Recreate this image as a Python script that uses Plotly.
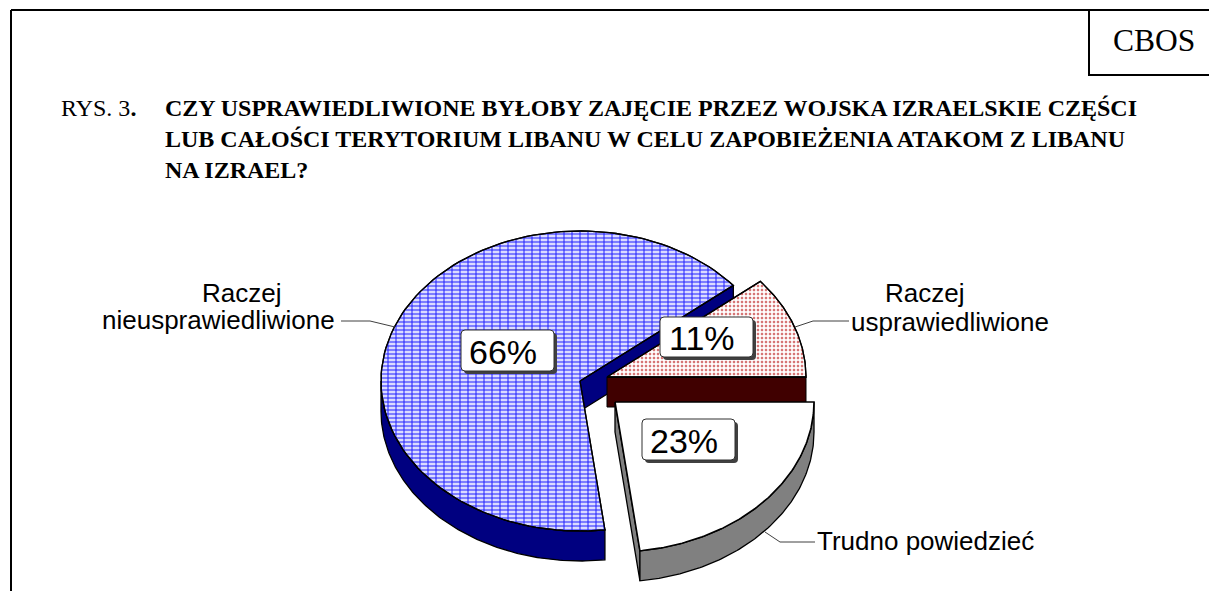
import numpy as np
import plotly.graph_objects as go

categories = ["Raczej nieusprawiedliwione", "Trudno powiedzieć", "Raczej usprawiedliwione"]
values = [66, 23, 11]
value_labels = ["66%", "23%", "11%"]
title_lines = [
    "CZY USPRAWIEDLIWIONE BYŁOBY ZAJĘCIE PRZEZ WOJSKA IZRAELSKIE CZĘŚCI",
    "LUB CAŁOŚCI TERYTORIUM LIBANU W CELU ZAPOBIEŻENIA ATAKOM Z LIBANU",
    "NA IZRAEL?",
]

W, H = 1209, 591
RX, RY, DEPTH = 199, 150, 30
START_DEG = 39.6
centers = [(580, 381), (615, 402), (607, 377)]

# slice angles from the values
spans = [v / sum(values) * 360 for v in values]
angles = []
a = START_DEG
for s in spans:
    angles.append((a, a + s))
    a += s


def arc(c, t0, t1, dy=0, n=120):
    t = np.radians(np.linspace(t0, t1, n))
    return c[0] + RX * np.cos(t), c[1] - RY * np.sin(t) + dy


def poly(x, y, fill, line="black", lw=1.3, pattern=None):
    fig.add_trace(go.Scatter(
        x=list(x) + [x[0]], y=list(y) + [y[0]], mode="lines", fill="toself",
        fillcolor=fill, fillpattern=pattern,
        line=dict(color=line, width=lw), hoverinfo="skip", showlegend=False))


def wedge(c, t0, t1):
    ax, ay = arc(c, t0, t1)
    return [c[0], *ax], [c[1], *ay]


def wall(c, t0, t1):
    ax, ay = arc(c, t0, t1)
    bx, by = arc(c, t0, t1, DEPTH)
    return [*ax, *bx[::-1]], [*ay, *by[::-1]]


def straight_wall(c, t):
    ex = c[0] + RX * np.cos(np.radians(t))
    ey = c[1] - RY * np.sin(np.radians(t))
    return [c[0], ex, ex, c[0]], [c[1], ey, ey + DEPTH, c[1] + DEPTH]


fig = go.Figure()

# Blue slice (66%)
c, (t0, t1) = centers[0], angles[0]
poly(*straight_wall(c, t0), "#000080")
poly(*wall(c, 180, t1), "#000080")
wx, wy = wedge(c, t0, t1)
poly(wx, wy, "#ffffff", pattern=dict(shape="-", fgcolor="#1f1fff", bgcolor="#dcdcff", size=4, solidity=0.5))
poly(wx, wy, "rgba(0,0,0,0)", pattern=dict(shape="|", fgcolor="#1f1fff", bgcolor="rgba(0,0,0,0)", size=8, solidity=0.25))

# Red slice (11%)
c, (t0, t1) = centers[2], angles[2]
t0m = t0 - 360 if t0 > 180 else t0
poly(*straight_wall(c, t0m), "#400000", lw=1)
wx, wy = wedge(c, t0m, t1 - 360 if t1 > 360 else t1)
poly(wx, wy, "#ffffff", pattern=dict(shape="+", fgcolor="#f0b8b8", bgcolor="#ffffff", size=4, solidity=0.3))
poly(wx, wy, "rgba(0,0,0,0)", pattern=dict(shape=".", fgcolor="#b00000", bgcolor="rgba(0,0,0,0)", size=4, solidity=0.3))

# White slice (23%)
c, (t0, t1) = centers[1], angles[1]
poly(*straight_wall(c, t0), "#808080")
poly(*wall(c, t0, t1), "#808080")
poly(*wedge(c, t0, t1), "#ffffff", lw=1.6)

# Leader lines
leaders = [
    ([341, 370, 395], [321, 321, 327]),
    ([795, 813, 849], [327, 321, 321]),
    ([765, 780, 815], [532, 542, 542]),
]
for lx, ly in leaders:
    fig.add_trace(go.Scatter(x=lx, y=ly, mode="lines", line=dict(color="#404040", width=1),
                             hoverinfo="skip", showlegend=False))


def round_rect(x0, y0, x1, y1, r=4):
    return (f"M{x0+r},{y0} L{x1-r},{y0} Q{x1},{y0} {x1},{y0+r} L{x1},{y1-r} Q{x1},{y1} {x1-r},{y1} "
            f"L{x0+r},{y1} Q{x0},{y1} {x0},{y1-r} L{x0},{y0+r} Q{x0},{y0} {x0+r},{y0} Z")


shapes = [
    dict(type="line", x0=11, y0=10, x1=W, y1=10, line=dict(color="black", width=2)),
    dict(type="line", x0=11, y0=10, x1=11, y1=H, line=dict(color="black", width=2)),
    dict(type="line", x0=1089, y0=10, x1=1089, y1=75, line=dict(color="black", width=2)),
    dict(type="line", x0=1088, y0=75, x1=W, y1=75, line=dict(color="black", width=2)),
]
boxes = [(461, 330, 554, 371), (642, 419, 735, 460), (660, 317, 753, 357)]
for (x0, y0, x1, y1) in boxes:
    shapes.append(dict(type="path", path=round_rect(x0 + 3, y0 + 3, x1 + 3, y1 + 3),
                       fillcolor="#404040", line=dict(width=0), layer="above"))
    shapes.append(dict(type="path", path=round_rect(x0, y0, x1, y1),
                       fillcolor="white", line=dict(color="#303030", width=1), layer="above"))

ann = []


def text(x, y, s, size, family="Liberation Sans", anchor="center", bold=False):
    ann.append(dict(x=x, y=y, text=f"<b>{s}</b>" if bold else s, showarrow=False, xref="x", yref="y",
                    xanchor=anchor, yanchor="middle", align="center",
                    font=dict(family=family, size=size, color="black")))


text(1154, 40, "CBOS", 31.5, "Liberation Serif")
text(59, 108, "RYS. 3<b>.</b>", 24, "Liberation Serif", "left")
for i, line in enumerate(title_lines):
    text(163, 108 + i * 31, line, 24, "Liberation Serif", "left", True)

for (x0, y0, x1, y1), lab in zip(boxes, value_labels):
    text((x0 + x1) / 2 - 5, (y0 + y1) / 2 + 1, lab, 34)

text(241, 293, "Raczej", 26)
text(337, 320, "nieusprawiedliwione", 26, anchor="right")
text(924, 293, "Raczej", 26)
text(849, 322, "usprawiedliwione", 26, anchor="left")
text(815, 541, categories[1], 26, anchor="left")

fig.update_layout(
    width=W, height=H, margin=dict(l=0, r=0, t=0, b=0), paper_bgcolor="white", plot_bgcolor="white",
    xaxis=dict(range=[0, W], visible=False, fixedrange=True),
    yaxis=dict(range=[H, 0], visible=False, fixedrange=True),
    showlegend=False, shapes=shapes, annotations=ann,
)
fig.write_html("out.html", config=dict(displayModeBar=False),
               post_script="document.body.style.margin='0';document.body.style.overflow='hidden';")
